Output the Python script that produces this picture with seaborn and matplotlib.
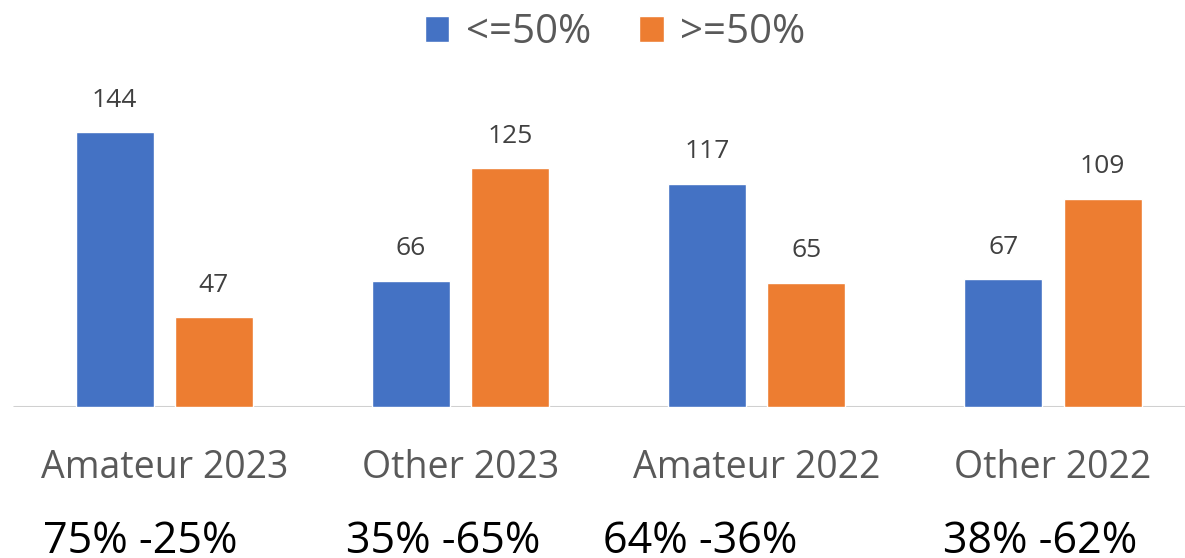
import numpy as np
import pandas as pd
import seaborn as sns
from matplotlib import pyplot as plt
from matplotlib import transforms

# data
categories = ['Amateur 2023', 'Other 2023', 'Amateur 2022', 'Other 2022']
low_vals = [144, 66, 117, 67]      # <=50%
high_vals = [47, 125, 65, 109]     # >=50%
series_names = ['<=50%', '>=50%']
split_labels = ['75% -25%', '35% -65%', '64% -36%', '38% -62%']

df = pd.DataFrame({
    'Category': categories * 2,
    'Share': [series_names[0]] * 4 + [series_names[1]] * 4,
    'Count': low_vals + high_vals,
})

sns.set_theme(style='white')
plt.rcParams['font.family'] = ['Open Sans', 'DejaVu Sans']

fig = plt.figure(figsize=(11.85, 5.58), dpi=100)
ax = fig.add_axes([0, 151 / 558, 1, 407 / 558])

sns.barplot(data=df, x='Category', y='Count', hue='Share',
            palette=['#4472C4', '#ED7D31'], width=0.67, gap=0.215,
            saturation=1, ax=ax)

ax.set_xlim(-0.5544, 3.4456)
ax.set_ylim(0, 407 / 1.91)
for s in ax.spines.values():
    s.set_visible(False)
ax.axhline(0, xmin=14 / 1185, xmax=1, color='#d0d0d0', lw=2.2, zorder=0)
ax.set_yticks([])
ax.set_xlabel('')
ax.set_ylabel('')
ax.tick_params(axis='x', length=0, pad=30, labelsize=27, labelcolor='#595959')

for cont in ax.containers:
    ax.bar_label(cont, padding=14, fontsize=19, color='#404040')

# second row of labels under the categories
offsets = [-0.08, -0.06, -0.19, -0.044]
trans = transforms.blended_transform_factory(ax.transData, fig.transFigure)
for i, lab in enumerate(split_labels):
    ax.text(i + offsets[i], 16 / 558, lab, transform=trans, ha='center',
            va='center', fontsize=31, color='black')

sns.move_legend(ax, 'center', bbox_to_anchor=(0.519, 0.941),
                bbox_transform=fig.transFigure, ncol=2, frameon=False,
                title=None, fontsize=29, handlelength=0.62, handleheight=0.62,
                handletextpad=0.4, columnspacing=1.2, labelcolor='#595959')

fig.savefig('out.png', dpi=100)
